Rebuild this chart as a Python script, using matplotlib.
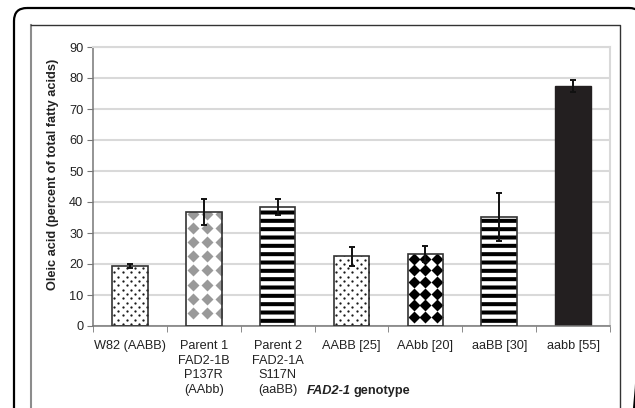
import numpy as np
import matplotlib
matplotlib.use("Agg")
import matplotlib.pyplot as plt
from matplotlib.patches import FancyBboxPatch

plt.rcParams['font.family'] = ['Liberation Sans', 'DejaVu Sans']

# data
genotypes = ["W82 (AABB)", "Parent 1\nFAD2-1B\nP137R\n(AAbb)",
             "Parent 2\nFAD2-1A\nS117N\n(aaBB)", "AABB [25]", "AAbb [20]",
             "aaBB [30]", "aabb [55]"]
oleic = [19.3, 36.8, 38.5, 22.5, 23.2, 35.1, 77.4]
oleic_sd = [0.6, 4.1, 2.6, 3.0, 2.6, 7.8, 2.0]
fills = ["dots", "grey_diamonds", "stripes", "dots", "black_diamonds",
         "stripes", "solid"]

W, H = 635, 408
fig = plt.figure(figsize=(W / 100, H / 100), dpi=100)

# background axes in pixel units for the frames
bg = fig.add_axes([0, 0, 1, 1])
bg.set_xlim(0, W)
bg.set_ylim(H, 0)
bg.axis("off")
bg.add_patch(FancyBboxPatch((14, 8), 628, 420, boxstyle="round,pad=0,rounding_size=13",
                            fill=False, ec="black", lw=1.6))
bg.plot([31, 31], [25, H + 5], color="#8c8c8c", lw=1.5)
bg.plot([31, 620, 620], [25, 25, H + 5], color="#333333", lw=1.0)

def px(x, y):  # pixel (from top-left) -> figure fraction
    return x / W, 1 - y / H

l, b = px(93, 326)
r, t = px(610, 47)
ax = fig.add_axes([l, b, r - l, t - b])

x = np.arange(len(genotypes))
bw = 0.48
ax.set_xlim(-0.5, len(genotypes) - 0.5)
ax.set_ylim(0, 90)
ux = (r - l) * W / len(genotypes)   # px per x unit
uy = (t - b) * H / 90.0             # px per y unit

def add_grid_marks(i, val, marker, color, step, size_px, off, stagger=False):
    # pattern of markers filling a bar (clipped to it later)
    x0 = i - bw / 2
    xs = np.arange(x0 + off[0] / ux, i + bw / 2 + step[0] / ux, step[0] / ux)
    ys = np.arange(off[1] / uy, val + step[1] / uy, step[1] / uy)
    px_, py_ = [], []
    for k, yy in enumerate(ys):
        shift = (step[0] / 2 / ux) if (stagger and k % 2) else 0
        px_.extend(xs + shift)
        py_.extend([yy] * len(xs))
    ms = size_px * 0.72 / (1.414 if marker == "D" else 1.0)
    ln, = ax.plot(px_, py_, ls="none", marker=marker, ms=ms, mfc=color,
                  mec="none", zorder=2.5)
    return ln

for i, (v, kind) in enumerate(zip(oleic, fills)):
    if kind == "solid":
        ax.bar(x[i], v, bw, color="#231f20", ec="#231f20", lw=1, zorder=2)
        continue
    base = ax.bar(x[i], v, bw, color="white", ec="none", lw=0, zorder=2)[0]
    if kind == "dots":
        ln = add_grid_marks(i, v, "o", "#1a1a1a", (8.3, 4.3), 2.3, (2, 2), stagger=True)
        ln.set_clip_path(base)
    elif kind == "stripes":
        hb = ax.bar(x[i], v, bw, color="none", ec="black", lw=0, hatch="--", zorder=2.2)[0]
        if hasattr(hb, "set_hatch_linewidth"):
            hb.set_hatch_linewidth(2.9)
    elif kind == "grey_diamonds":
        ln = add_grid_marks(i, v, "D", "#999999", (14.2, 14.2), 11, (7, 13))
        ln.set_clip_path(base)
    elif kind == "black_diamonds":
        ln = add_grid_marks(i, v, "D", "black", (11.7, 11.7), 11.5, (6, 9))
        ln.set_clip_path(base)
    ax.bar(x[i], v, bw, color="none", ec="#333333", lw=1.2, zorder=3)

ax.errorbar(x, oleic, yerr=oleic_sd, fmt="none", ecolor="#111111",
            elinewidth=1.4, capsize=2.5, capthick=1.4, zorder=4)

ax.set_yticks(np.arange(0, 91, 10))
ax.yaxis.grid(True, color="#d9d9d9", lw=1.5)
ax.set_axisbelow(True)
ax.set_xticks(x)
ax.set_xticklabels(genotypes, fontsize=9.2, color="#222222", linespacing=1.3)
ax.set_xticks(np.arange(-0.5, len(genotypes)), minor=True)
ax.tick_params(axis="x", which="major", length=0, pad=10)
ax.tick_params(axis="x", which="minor", length=4, color="#777777", direction="out")
ax.tick_params(axis="y", length=4, color="#777777", labelsize=9.2,
               labelcolor="#222222", pad=3)
for s in ["left", "bottom"]:
    ax.spines[s].set_color("#777777")
    ax.spines[s].set_linewidth(1.1)
for s in ["top", "right"]:
    ax.spines[s].set_color("#d9d9d9")
    ax.spines[s].set_linewidth(1.5)

fig.text(*px(53, 174), "Oleic acid (percent of total fatty acids)", rotation=90,
         fontsize=9.2, fontweight="bold", ha="center", va="center", color="#222222")

t1 = fig.text(*px(307, 391), "FAD2-1", fontsize=9.2, fontweight="bold",
              fontstyle="italic", ha="left", va="center", color="#222222")
rend = fig.canvas.get_renderer()
bb = t1.get_window_extent(rend)
fig.text(bb.x1 / W + 3 / W, px(0, 391)[1], "genotype", fontsize=9.2,
         fontweight="bold", ha="left", va="center", color="#222222")

fig.savefig("out.png", dpi=100)
